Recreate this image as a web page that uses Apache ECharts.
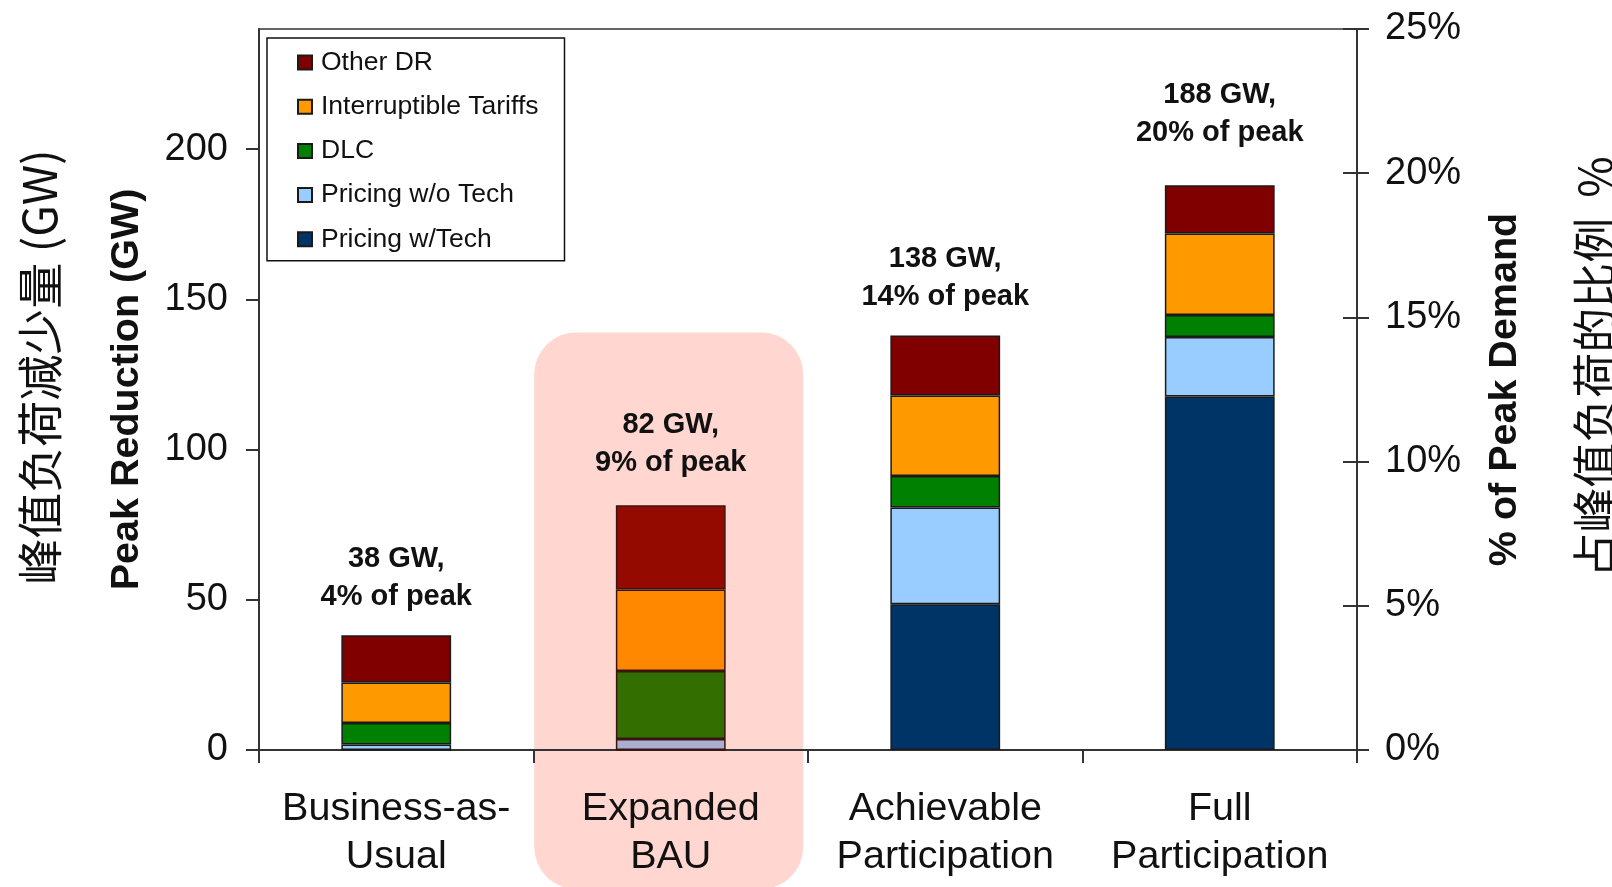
<!DOCTYPE html>
<html>
<head>
<meta charset="utf-8">
<script src="https://cdn.jsdelivr.net/npm/echarts@6/dist/echarts.min.js"></script>
<style>
  html, body { margin: 0; padding: 0; background: #fff; }
  #chart { width: 1612px; height: 887px; }
</style>
</head>
<body>
<div id="chart"></div>
<script>
// data (GW)
const categories = ['Business-as-\nUsual', 'Expanded\nBAU', 'Achievable\nParticipation', 'Full\nParticipation']
const pricingWithTech = [0, 0, 48.5, 117.7]
const pricingWithoutTech = [1.8, 3.7, 32.2, 19.8]
const dlc = [7.2, 22.6, 10.5, 7.3]
const interruptible = [13.5, 27.1, 26.8, 27.1]
const otherDR = [15.7, 28.1, 20.0, 16.1]
const totalGW = [38, 82, 138, 188]
const pctOfPeak = [4, 9, 14, 20]
const gwTicks = [0, 50, 100, 150, 200]

const FONT = 'Liberation Sans, Arial, sans-serif'
const HIGHLIGHT_INDEX = 1
const HIGHLIGHT_TOP_GW = 139
// gap between each total label and its bar
const labelGap = [19, 23, 19, 33]

const seriesDefs = [
  { name: 'Pricing w/Tech', data: pricingWithTech, color: '#003366', hl: '#1a2a55' },
  { name: 'Pricing w/o Tech', data: pricingWithoutTech, color: '#99ccff', hl: '#abaed0' },
  { name: 'DLC', data: dlc, color: '#008000', hl: '#336e00' },
  { name: 'Interruptible Tariffs', data: interruptible, color: '#ff9900', hl: '#ff8800' },
  { name: 'Other DR', data: otherDR, color: '#800000', hl: '#950a00' }
]

const chart = echarts.init(document.getElementById('chart'))

const series = seriesDefs.map((s, k) => {
  const isTop = k === seriesDefs.length - 1
  const item = {
    name: s.name,
    type: 'bar',
    stack: 'total',
    barWidth: '40%',
    itemStyle: { color: s.color, borderColor: '#1a1a1a', borderWidth: 1.5 },
    data: s.data.map((v, i) => {
      const d = { value: v }
      if (i === HIGHLIGHT_INDEX) d.itemStyle = { color: s.hl, borderColor: '#3a1410' }
      if (isTop) d.label = { distance: labelGap[i] }
      return d
    })
  }
  // total label above the top segment
  if (isTop) {
    item.label = {
      show: true,
      position: 'top',
      fontFamily: FONT,
      fontWeight: 'bold',
      fontSize: 29,
      lineHeight: 38,
      color: '#111',
      formatter: p => totalGW[p.dataIndex] + ' GW,\n' + pctOfPeak[p.dataIndex] + '% of peak'
    }
  }
  return item
})

const axisLineStyle = { color: '#333', width: 2 }

const option = {
  backgroundColor: '#fff',
  animation: false,
  grid: {
    left: 259, right: 255, top: 29, bottom: 137,
    show: true, borderColor: '#333', borderWidth: 1.5, backgroundColor: 'transparent'
  },
  legend: {
    orient: 'vertical',
    left: 267,
    top: 38,
    data: ['Other DR', 'Interruptible Tariffs', 'DLC', 'Pricing w/o Tech', 'Pricing w/Tech'],
    icon: 'rect',
    itemWidth: 14,
    itemHeight: 14,
    itemGap: 17.2,
    padding: [11, 26, 8, 30],
    borderColor: '#111',
    borderWidth: 1.5,
    backgroundColor: '#fff',
    textStyle: { fontFamily: FONT, fontSize: 26.5, color: '#111', padding: [0, 0, 0, 4] }
  },
  xAxis: {
    type: 'category',
    data: categories,
    axisLine: { lineStyle: axisLineStyle },
    axisTick: { show: true, length: 13, interval: 0, lineStyle: axisLineStyle },
    axisLabel: { interval: 0, fontFamily: FONT, fontSize: 39.5, lineHeight: 48, color: '#111', margin: 35 }
  },
  yAxis: [
    {
      type: 'value',
      min: 0,
      max: 240,
      interval: 50,
      position: 'left',
      name: 'Peak Reduction (GW)',
      nameLocation: 'middle',
      nameGap: 112,
      nameTextStyle: { fontFamily: FONT, fontWeight: 'bold', fontSize: 39.5, color: '#111' },
      axisLine: { show: true, lineStyle: axisLineStyle },
      axisTick: { show: true, length: 13, lineStyle: axisLineStyle, customValues: gwTicks },
      axisLabel: { fontFamily: FONT, fontSize: 38, color: '#111', margin: 31, customValues: gwTicks },
      splitLine: { show: false }
    },
    {
      type: 'value',
      min: 0,
      max: 25,
      interval: 5,
      position: 'right',
      name: '% of Peak Demand',
      nameLocation: 'middle',
      nameGap: 128,
      nameTextStyle: { fontFamily: FONT, fontWeight: 'bold', fontSize: 39.5, color: '#111' },
      axisLine: { show: true, lineStyle: axisLineStyle },
      axisTick: { show: true, length: 12, lineStyle: axisLineStyle },
      axisLabel: { fontFamily: FONT, fontSize: 38, color: '#111', margin: 28, formatter: '{value}%' },
      splitLine: { show: false }
    },
    {
      // inner half of the crossing ticks on the right axis
      type: 'value',
      min: 0,
      max: 25,
      interval: 5,
      position: 'right',
      axisLine: { show: false },
      axisTick: { show: true, inside: true, length: 14, lineStyle: axisLineStyle },
      axisLabel: { show: false },
      splitLine: { show: false }
    }
  ],
  series: series
}

chart.setOption(option)

// highlight box behind "Expanded BAU" and the outer Chinese titles
const x0 = chart.convertToPixel({ xAxisIndex: 0 }, 0)
const x1 = chart.convertToPixel({ xAxisIndex: 0 }, HIGHLIGHT_INDEX)
const band = x1 - x0
const boxTop = chart.convertToPixel({ yAxisIndex: 0 }, HIGHLIGHT_TOP_GW)
const boxW = band * 0.98

chart.setOption({
  graphic: [
    {
      type: 'rect',
      z: -1,
      shape: { x: x1 - boxW / 2 - 2, y: boxTop, width: boxW, height: 889 - boxTop, r: 42 },
      style: { fill: '#ffd6d0' },
      silent: true
    },
    {
      type: 'text',
      x: 40,
      y: 367,
      rotation: Math.PI / 2,
      style: { text: '峰值负荷减少量 (GW)', font: '46px "Noto Sans CJK SC"', fill: '#111', align: 'center', verticalAlign: 'middle' }
    },
    {
      type: 'text',
      x: 1595,
      y: 367,
      rotation: Math.PI / 2,
      style: { text: '占峰值负荷的比例  %', font: '45px "Noto Sans CJK SC"', fill: '#111', align: 'center', verticalAlign: 'middle' }
    }
  ]
})

window.addEventListener('resize', () => {
  chart && chart.resize()
})
</script>
</body>
</html>
